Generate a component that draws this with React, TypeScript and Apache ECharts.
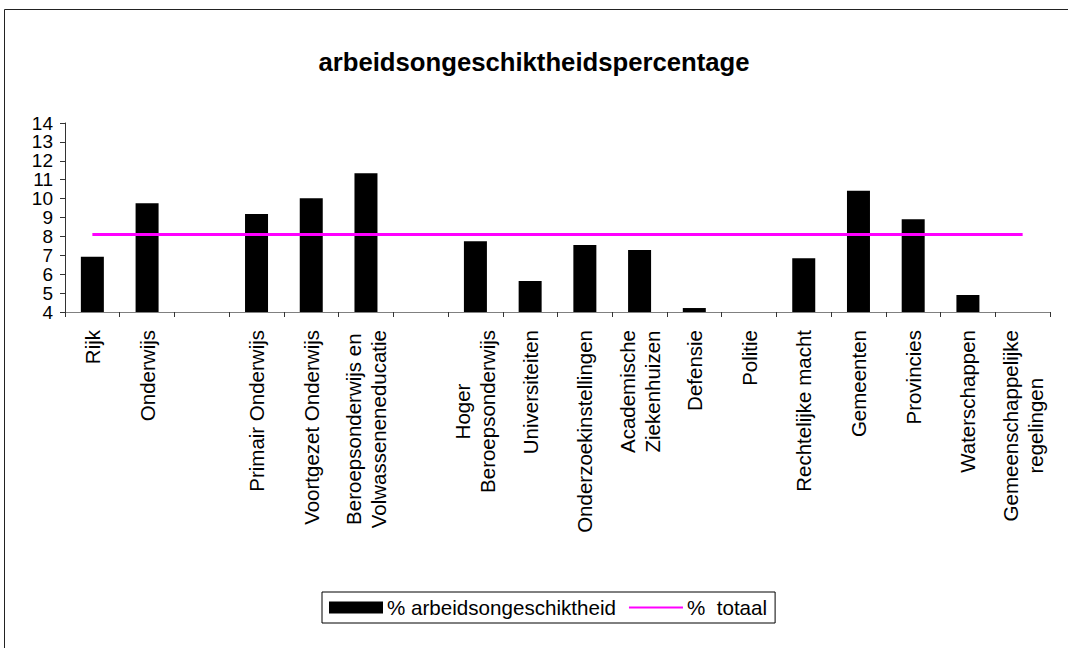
import React, { useEffect, useRef } from "react";
import * as echarts from "echarts";

const TITLE = "arbeidsongeschiktheidspercentage";
const categories = [
  "Rijk",
  "Onderwijs",
  "",
  "Primair Onderwijs",
  "Voortgezet Onderwijs",
  "Beroepsonderwijs en\nVolwasseneneducatie",
  "",
  "Hoger\nBeroepsonderwijs",
  "Universiteiten",
  "Onderzoekinstellingen",
  "Academische\nZiekenhuizen",
  "Defensie",
  "Politie",
  "Rechtelijke macht",
  "Gemeenten",
  "Provincies",
  "Waterschappen",
  "Gemeenschappelijke\nregelingen",
];
const barName = "% arbeidsongeschiktheid";
const barValues: (number | null)[] = [
  6.92, 9.76, null, 9.18, 10.02, 11.34, null, 7.75, 5.64, 7.54, 7.28, 4.21, null, 6.85, 10.41, 8.91, 4.9, null,
];
const lineName = "%  totaal";
const totalValue = 8.1;
const lineValues = categories.map(() => totalValue);
const yMin = 4;
const yMax = 14;
const yInterval = 1;

const FONT = "'Liberation Sans', Arial, sans-serif";

export default function App() {
  const ref = useRef<HTMLDivElement>(null);
  useEffect(() => {
    document.body.style.margin = "0";
    if (!ref.current) return;
    const chart = echarts.init(ref.current, undefined, { renderer: "svg" });
    chart.setOption({
      animation: false,
      backgroundColor: "#fff",
      textStyle: { fontFamily: FONT, color: "#000" },
      title: {
        text: TITLE,
        left: "center",
        top: 44,
        textStyle: { fontFamily: FONT, fontSize: 25.7, fontWeight: "bold", color: "#000" },
      },
      graphic: [
        {
          type: "rect",
          shape: { x: 4.5, y: 9.5, width: 1200, height: 800 },
          style: { fill: "none", stroke: "#222", lineWidth: 1 },
          silent: true,
        },
      ],
      legend: {
        left: 322,
        top: 592,
        padding: [5, 8, 5, 7],
        borderColor: "#000",
        borderWidth: 1,
        itemWidth: 54,
        itemHeight: 12,
        itemGap: 12,
        textStyle: { fontFamily: FONT, fontSize: 20.6, color: "#000", padding: [0, 0, 0, -1] },
        data: [
          { name: barName, icon: "rect" },
          { name: lineName, itemStyle: { opacity: 0 } },
        ],
      },
      grid: { left: 65, right: 18, top: 123, bottom: 336, containLabel: false },
      xAxis: {
        type: "category",
        data: categories,
        axisLine: { lineStyle: { color: "#808080", width: 1 } },
        axisTick: { show: true, length: 5, lineStyle: { color: "#333" } },
        axisLabel: {
          interval: 0,
          rotate: 90,
          margin: 18,
          fontFamily: FONT,
          fontSize: 20.5,
          color: "#000",
          lineHeight: 25,
          formatter: (v: string) =>
            v
              .split("\n")
              .map((l) => `{c|${l}}`)
              .join("\n"),
          rich: { c: { align: "center", fontFamily: FONT, fontSize: 20.5, lineHeight: 25, color: "#000" } },
        },
      },
      yAxis: {
        type: "value",
        min: yMin,
        max: yMax,
        interval: yInterval,
        splitLine: { show: false },
        axisLine: { show: true, lineStyle: { color: "#333", width: 1 } },
        axisTick: { show: true, length: 5, lineStyle: { color: "#333" } },
        axisLabel: {
          fontFamily: FONT,
          fontSize: 19,
          lineHeight: 18.5,
          color: "#000",
          margin: 12,
          showMinLabel: true,
          showMaxLabel: true,
          hideOverlap: false,
        },
      },
      series: [
        {
          name: barName,
          type: "bar",
          data: barValues,
          barWidth: 23,
          itemStyle: { color: "#000" },
        },
        {
          name: lineName,
          type: "line",
          data: lineValues,
          symbol: "none",
          lineStyle: { color: "#FF00FF", width: 3 },
          itemStyle: { color: "#FF00FF" },
        },
      ],
    });
    return () => chart.dispose();
  }, []);
  return <div ref={ref} style={{ width: 1068, height: 648 }} />;
}
